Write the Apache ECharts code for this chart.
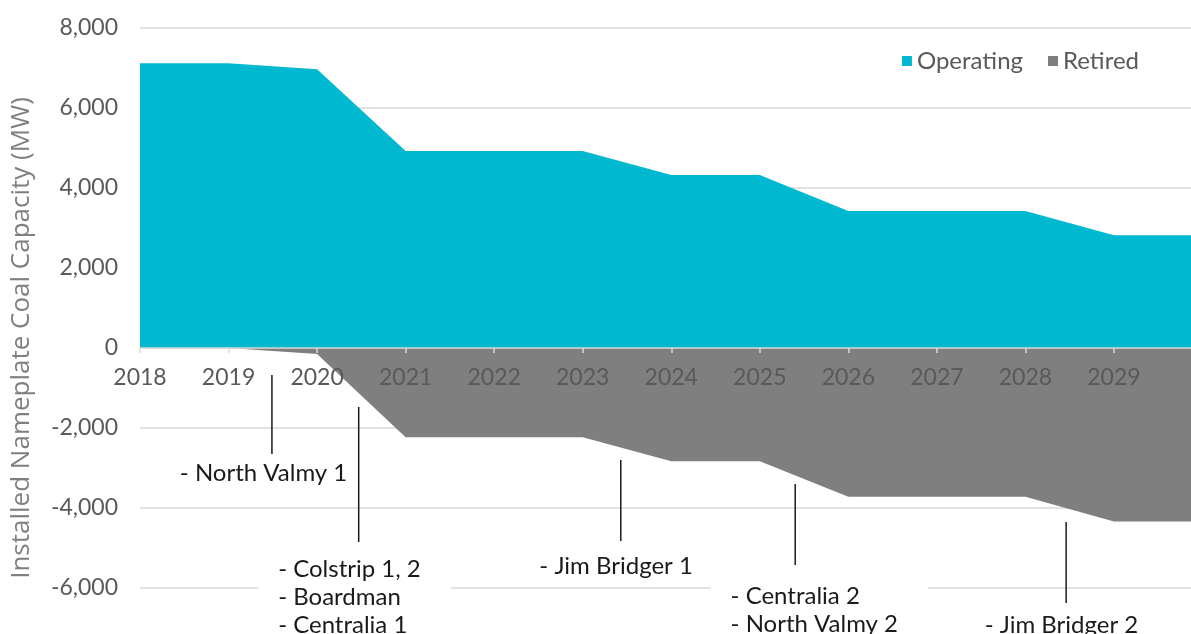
<!DOCTYPE html>
<html>
<head>
<meta charset="utf-8">
<script src="https://cdn.jsdelivr.net/npm/echarts@6/dist/echarts.min.js"></script>
<style>
  html, body { margin: 0; padding: 0; background: #fff; }
  #chart { width: 1191px; height: 634px; }
</style>
</head>
<body>
<div id="chart"></div>
<script>
// --- data ---
const years = ['2018', '2019', '2020', '2021', '2022', '2023', '2024', '2025', '2026', '2027', '2028', '2029', '2030'];
const operating = [7120, 7120, 6970, 4925, 4925, 4925, 4325, 4325, 3425, 3425, 3425, 2820, 2820];
const retired = [0, 0, -150, -2230, -2230, -2230, -2830, -2830, -3720, -3720, -3720, -4340, -4340];
const yTicks = { min: -8000, max: 8000, step: 2000 };

// retirement call-outs: [x (year), line top, line bottom, text x, first text line y]
const noteLines = [
  [2019.49, -675, -2650, 2018.45, -3125],
  [2020.47, -1475, -4850, 2019.56, -5525],
  [2023.43, -2800, -4825, 2022.51, -5450],
  [2025.40, -3400, -5425, 2024.67, -6200],
  [2028.46, -4350, -6375, 2027.54, -6925]
];
const noteTexts = [
  '- North Valmy 1',
  '- Colstrip 1, 2\n- Boardman\n- Centralia 1',
  '- Jim Bridger 1',
  '- Centralia 2\n- North Valmy 2',
  '- Jim Bridger 2'
];

const FONT = 'Lato, "Open Sans", sans-serif';
const chart = echarts.init(document.getElementById('chart'));

// grid spans -8000..8000; the x axis sits on the zero line, 320px above the grid bottom
const GRID_TOP = 28, GRID_H = 640;
const zeroOffset = -GRID_H * (0 - yTicks.min) / (yTicks.max - yTicks.min);

chart.setOption({
  animation: false,
  grid: { left: 140, right: -11.5, top: GRID_TOP, height: GRID_H, outerBoundsMode: 'none', containLabel: false },
  legend: {
    data: ['Operating', 'Retired'],
    right: 47,
    top: 44,
    icon: 'rect',
    itemWidth: 10,
    itemHeight: 10,
    itemGap: 25,
    textStyle: { color: '#595959', fontSize: 24, fontFamily: FONT }
  },
  graphic: [{
    type: 'text',
    x: 22,
    y: 338,
    rotation: Math.PI / 2,
    style: {
      text: 'Installed Nameplate Coal Capacity (MW)',
      align: 'center',
      verticalAlign: 'middle',
      fill: '#7f7f7f',
      font: '26px "Open Sans", sans-serif'
    }
  }],
  xAxis: [
    {
      type: 'category',
      data: years,
      boundaryGap: false,
      position: 'bottom',
      offset: zeroOffset,
      z: 5,
      axisLine: { onZero: false, lineStyle: { color: '#d9d9d9', width: 1.5 } },
      axisTick: { show: true, interval: 0, length: 5, lineStyle: { color: '#d9d9d9', width: 1.5 } },
      splitLine: { show: false },
      axisLabel: {
        interval: 0,
        formatter: (v, i) => (i === years.length - 1 ? '' : v),
        color: '#595959',
        fontSize: 23,
        fontFamily: FONT,
        margin: 18
      }
    },
    {
      // helper axis for call-out placement between years
      type: 'value',
      min: Number(years[0]),
      max: Number(years[years.length - 1]),
      show: false
    }
  ],
  yAxis: {
    type: 'value',
    min: yTicks.min,
    max: yTicks.max,
    interval: yTicks.step,
    axisLine: { show: false },
    axisTick: { show: false },
    splitLine: { lineStyle: { color: '#d9d9d9', width: 1.5 } },
    axisLabel: { color: '#595959', fontSize: 23, fontFamily: FONT, margin: 22 }
  },
  series: [
    {
      name: 'Operating',
      type: 'line',
      data: operating,
      symbol: 'none',
      lineStyle: { width: 0 },
      itemStyle: { color: '#00b9d1' },
      areaStyle: { color: '#00b9d1', opacity: 1 }
    },
    {
      name: 'Retired',
      type: 'line',
      data: retired,
      symbol: 'none',
      lineStyle: { width: 0 },
      itemStyle: { color: '#7f7f7f' },
      areaStyle: { color: '#7f7f7f', opacity: 1 }
    },
    {
      name: 'notes',
      type: 'custom',
      xAxisIndex: 1,
      z: 10,
      silent: true,
      data: noteLines,
      renderItem: (params, api) => {
        const top = api.coord([api.value(0), api.value(1)]);
        const bot = api.coord([api.value(0), api.value(2)]);
        const txt = api.coord([api.value(3), api.value(4)]);
        return {
          type: 'group',
          children: [
            {
              type: 'line',
              shape: { x1: top[0], y1: top[1], x2: bot[0], y2: bot[1] },
              style: { stroke: '#1a1a1a', lineWidth: 1.5 }
            },
            {
              type: 'text',
              x: txt[0] - 20,
              y: txt[1] - 14,
              style: {
                text: noteTexts[params.dataIndex],
                fill: '#1a1a1a',
                font: '24px ' + FONT,
                lineHeight: 28,
                align: 'left',
                verticalAlign: 'top',
                backgroundColor: '#fff',
                padding: [0, 30, 0, 20]
              }
            }
          ]
        };
      }
    }
  ]
});
</script>
</body>
</html>
